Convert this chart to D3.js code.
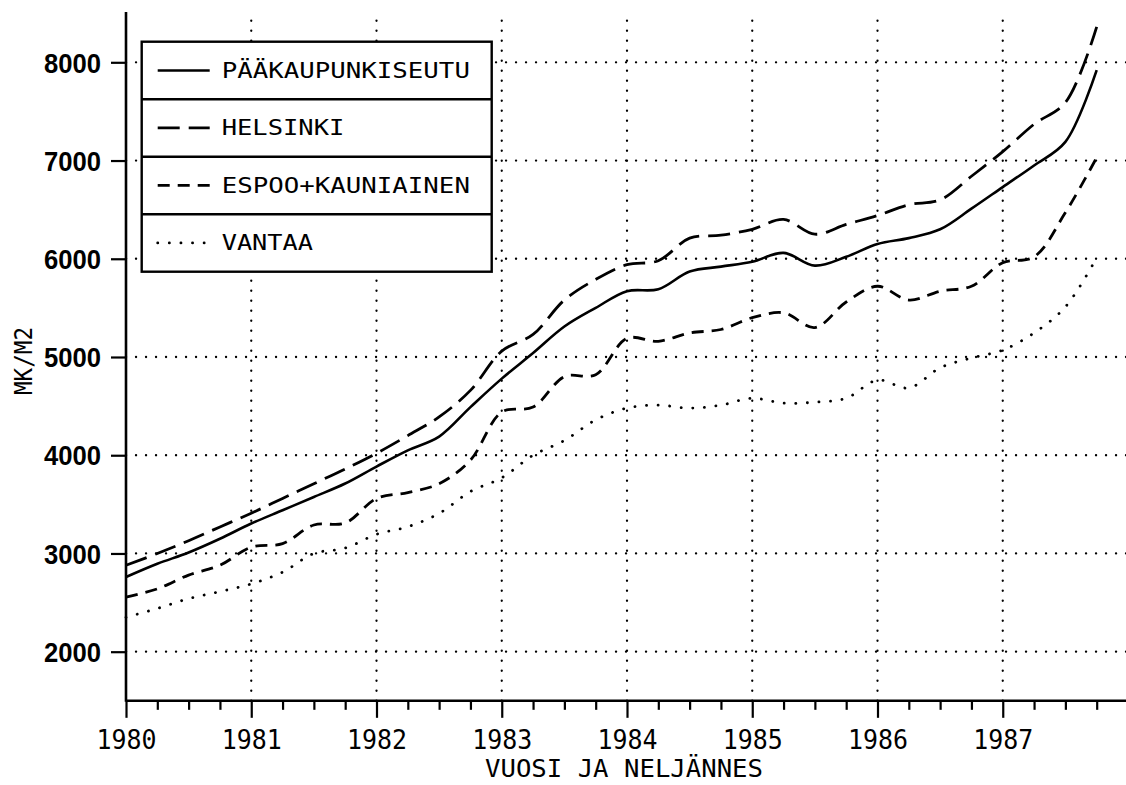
<!DOCTYPE html>
<html lang="fi">
<head>
<meta charset="utf-8">
<title>MK/M2</title>
<script src="https://cdn.jsdelivr.net/npm/d3@7"></script>
<style>
  body { margin: 0; background: #fff; }
  svg { display: block; }
  .mono { font-family: "DejaVu Sans Mono", monospace; }
</style>
</head>
<body>
<div id="chart"></div>
<script>
// Vuodet ja neljännekset
var years = [1980, 1981, 1982, 1983, 1984, 1985, 1986, 1987];
var quarterNames = ["I", "II", "III", "IV"];
var yTicks = [2000, 3000, 4000, 5000, 6000, 7000, 8000];

// Hinnat mk/m2
var paakaupunkiseutu = [2760, 2895, 3010, 3150, 3305, 3440, 3575, 3712, 3885, 4050, 4190, 4490, 4780, 5040, 5310, 5500, 5670, 5690, 5870, 5920, 5970, 6060, 5930, 6020, 6150, 6210, 6300, 6510, 6730, 6950, 7190, 7920];
var helsinki = [2880, 3000, 3130, 3270, 3410, 3560, 3710, 3860, 4020, 4200, 4390, 4660, 5060, 5230, 5580, 5790, 5940, 5980, 6210, 6240, 6300, 6400, 6250, 6350, 6440, 6550, 6600, 6840, 7090, 7370, 7590, 8360];
var espoo = [2555, 2640, 2780, 2880, 3065, 3100, 3290, 3310, 3560, 3620, 3710, 3950, 4440, 4490, 4800, 4820, 5190, 5160, 5245, 5280, 5400, 5450, 5300, 5560, 5720, 5580, 5670, 5720, 5960, 6020, 6470, 7030];
var vantaa = [2350, 2440, 2540, 2612, 2690, 2810, 3000, 3055, 3195, 3272, 3408, 3630, 3770, 4000, 4150, 4360, 4480, 4510, 4480, 4510, 4580, 4530, 4540, 4580, 4765, 4685, 4890, 4990, 5070, 5245, 5510, 6010];

var seriesNames = ["PÄÄKAUPUNKISEUTU", "HELSINKI", "ESPOO+KAUNIAINEN", "VANTAA"];

// ajat desimaalivuosina
var times = [];
years.forEach(function(y) {
    quarterNames.forEach(function(q, i) { times.push(y + i / 4); });
});

var series = [
    { name: seriesNames[0], values: paakaupunkiseutu, dash: null, width: 2.6, cap: "butt" },
    { name: seriesNames[1], values: helsinki, dash: "22,9", width: 2.8, cap: "butt" },
    { name: seriesNames[2], values: espoo, dash: "12,8", width: 2.8, cap: "butt" },
    { name: seriesNames[3], values: vantaa, dash: "0.1,11.5", width: 2.8, cap: "round" }
];

var W = 1126, H = 785;
var svg = d3.select("#chart").append("svg")
    .attr("width", W)
    .attr("height", H);

var x = d3.scaleLinear().domain([1980, 1988]).range([126, 1128]);
var y = d3.scaleLinear().domain([2000, 8000]).range([651.7, 62.3]);
var yBottom = y(1500), yTop = 12;

// Ruudukko
var grid = svg.append("g");
grid.selectAll(".hgrid")
    .data(yTicks)
    .enter().append("line")
    .attr("x1", x(1980)).attr("x2", W)
    .attr("y1", function(d) { return y(d); })
    .attr("y2", function(d) { return y(d); })
    .style("stroke", "#000")
    .style("stroke-width", 2.3)
    .style("stroke-linecap", "round")
    .style("stroke-dasharray", "0.1,9.9");
grid.selectAll(".vgrid")
    .data(years.slice(1))
    .enter().append("line")
    .attr("x1", function(d) { return x(d); })
    .attr("x2", function(d) { return x(d); })
    .attr("y1", yBottom).attr("y2", yTop + 3)
    .style("stroke", "#000")
    .style("stroke-width", 2.3)
    .style("stroke-linecap", "round")
    .style("stroke-dasharray", "0.1,9.9");

// Käyrät
var line = d3.line()
    .x(function(d, i) { return x(times[i]); })
    .y(function(d) { return y(d); })
    .curve(d3.curveCatmullRom.alpha(0.5));

svg.selectAll(".sarja")
    .data(series)
    .enter().append("path")
    .attr("d", function(d) { return line(d.values); })
    .style("fill", "none")
    .style("stroke", "#000")
    .style("stroke-width", function(d) { return d.width; })
    .style("stroke-linecap", function(d) { return d.cap; })
    .style("stroke-dasharray", function(d) { return d.dash; });

// Y-akseli
var yAxis = d3.axisLeft(y).tickValues(yTicks).tickSize(15).tickPadding(10).tickFormat(d3.format("d"));
var gy = svg.append("g")
    .attr("transform", "translate(" + x(1980) + ",0)")
    .call(yAxis);
gy.select(".domain").remove();
gy.selectAll(".tick line").style("stroke-width", 2.2);
gy.selectAll("text")
    .style("font-family", "'Liberation Sans', Arial, sans-serif")
    .style("font-size", "27px")
    .style("font-weight", "bold")
    .attr("textLength", 57)
    .attr("lengthAdjust", "spacingAndGlyphs")
    .attr("dy", "0.36em")
    .style("fill", "#000");
svg.append("line")
    .attr("x1", x(1980)).attr("x2", x(1980))
    .attr("y1", yTop).attr("y2", yBottom + 1)
    .style("stroke", "#000").style("stroke-width", 2.6);

// X-akseli
var minorTicks = times.filter(function(t) { return t % 1 !== 0; });
var gxMinor = svg.append("g")
    .attr("transform", "translate(0," + yBottom + ")")
    .call(d3.axisBottom(x).tickValues(minorTicks).tickSize(9).tickFormat(""));
gxMinor.select(".domain").remove();
gxMinor.selectAll(".tick line").style("stroke-width", 2.2);

var gx = svg.append("g")
    .attr("transform", "translate(0," + yBottom + ")")
    .call(d3.axisBottom(x).tickValues(years).tickSize(17).tickPadding(12).tickFormat(d3.format("d")));
gx.select(".domain").remove();
gx.selectAll(".tick line").style("stroke-width", 2.2);
gx.selectAll("text")
    .attr("class", "mono")
    .style("font-size", "27px")
    .attr("textLength", 60)
    .attr("lengthAdjust", "spacingAndGlyphs")
    .style("fill", "#000");
svg.append("line")
    .attr("x1", x(1980)).attr("x2", W)
    .attr("y1", yBottom).attr("y2", yBottom)
    .style("stroke", "#000").style("stroke-width", 2.6);

// Akselien otsikot
svg.append("text")
    .attr("class", "mono")
    .attr("x", 624).attr("y", 777)
    .attr("text-anchor", "middle")
    .style("font-size", "25px")
    .attr("textLength", 278)
    .attr("lengthAdjust", "spacingAndGlyphs")
    .text("VUOSI JA NELJÄNNES");
svg.append("text")
    .attr("class", "mono")
    .attr("transform", "translate(32,361) rotate(-90)")
    .attr("text-anchor", "middle")
    .style("font-size", "25px")
    .attr("textLength", 68)
    .attr("lengthAdjust", "spacingAndGlyphs")
    .text("MK/M2");

// Selite
var legX = 141.7, legY = 41.7, legW = 350, rowH = 57.5;
var legend = svg.append("g");
legend.append("rect")
    .attr("x", legX).attr("y", legY)
    .attr("width", legW).attr("height", rowH * series.length)
    .style("fill", "#fff")
    .style("stroke", "#000")
    .style("stroke-width", 2.4);
var rows = legend.selectAll(".leyenda")
    .data(series)
    .enter().append("g")
    .attr("transform", function(d, i) { return "translate(" + legX + "," + (legY + i * rowH) + ")"; });
rows.filter(function(d, i) { return i > 0; })
    .append("line")
    .attr("x1", 0).attr("x2", legW)
    .attr("y1", 0).attr("y2", 0)
    .style("stroke", "#000")
    .style("stroke-width", 2.4);
rows.append("line")
    .attr("x1", 16).attr("x2", 68)
    .attr("y1", rowH / 2).attr("y2", rowH / 2)
    .style("stroke", "#000")
    .style("stroke-width", function(d) { return d.width; })
    .style("stroke-linecap", function(d) { return d.cap; })
    .style("stroke-dasharray", function(d) { return d.dash; });
rows.append("text")
    .attr("class", "mono")
    .attr("x", 80)
    .attr("y", rowH / 2 + 7.5)
    .style("font-size", "21px")
    .attr("textLength", function(d) { return d.name.length * 15.7 - 3; })
    .attr("lengthAdjust", "spacingAndGlyphs")
    .text(function(d) { return d.name; });
</script>
</body>
</html>
